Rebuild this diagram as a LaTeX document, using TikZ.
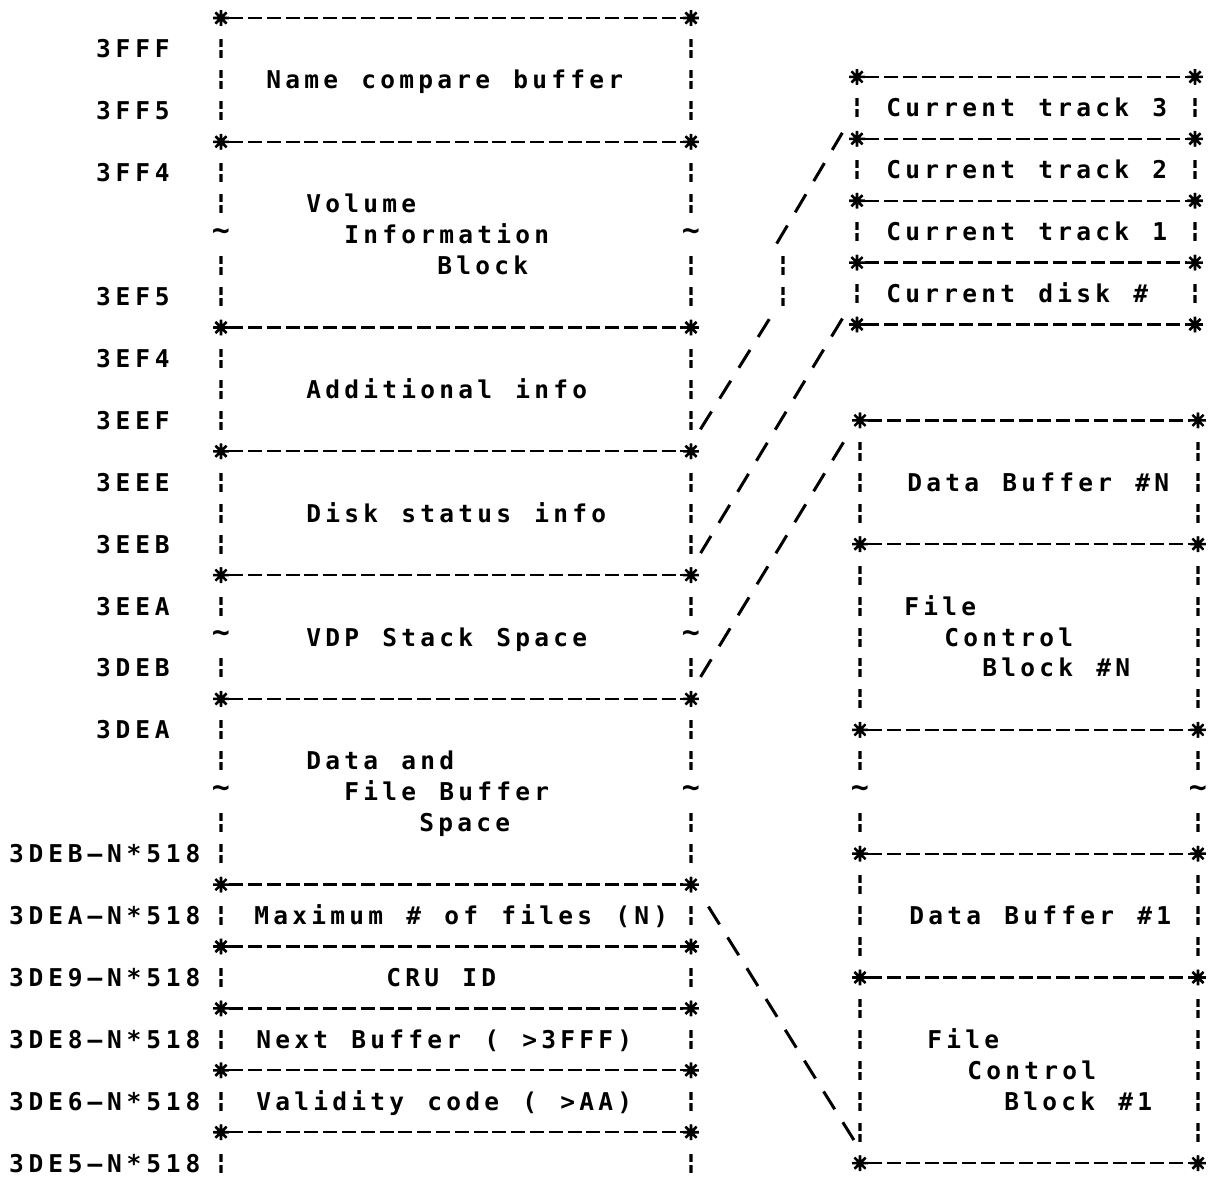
\documentclass[tikz,border=0pt]{standalone}
\usepackage{fontspec}
\usetikzlibrary{calc}
\newfontfamily\dotfont{DejaVu Sans Mono}
\ExplSyntaxOn
\dim_new:N \l_rsk_pitch_dim
\NewDocumentCommand \mono { O{19pt} m }
  {
    \dim_set:Nn \l_rsk_pitch_dim {#1}
    \exp_args:Ne \str_map_inline:nn {#2}
      {
        \makebox[\l_rsk_pitch_dim][c]
          { \str_if_eq:nnTF {##1} {@} { \# } {##1} }
      }
  }
\ExplSyntaxOff
\newcommand\RR[1]{18+30.95*#1}
\begin{document}
\begin{tikzpicture}[x=1pt,y=-1pt,
  txt/.style={anchor=base west, inner sep=0pt, font=\dotfont\bfseries\fontsize{24.5pt}{26pt}\selectfont},
  tld/.style={inner sep=0pt, font=\dotfont\bfseries\fontsize{30pt}{32pt}\selectfont},
  corner/.style={circle, minimum size=16pt, inner sep=0pt, path picture={
    \draw[line width=2.6pt] (path picture bounding box.north) -- (path picture bounding box.south)
      (path picture bounding box.west) -- (path picture bounding box.east)
      (path picture bounding box.north west) -- (path picture bounding box.south east)
      (path picture bounding box.north east) -- (path picture bounding box.south west);}},
  vbar/.style={rectangle, minimum width=3.4pt, minimum height=19pt, inner sep=0pt, path picture={
    \fill (path picture bounding box.north west) rectangle ([yshift=1.5pt]path picture bounding box.east);
    \fill ([yshift=-1.5pt]path picture bounding box.west) rectangle (path picture bounding box.south east);}},
  hline/.style={line width=2.3pt, dash pattern=on 14pt off 4.8pt},
  slash/.style={line width=3pt, dash pattern=on 21pt off 15.3pt}
]
\fill[white] (0,0) rectangle (1217,1179);
\useasboundingbox (0,0) rectangle (1217,1179);

% ---------- left memory map ----------
\foreach \r in {0,4,10,14,18,22,28,30,32,34,36}{
  \node[corner] (LB\r-w) at (221,{\RR{\r}}) {};
  \node[corner] (LB\r-e) at (691,{\RR{\r}}) {};
  \draw[hline] (LB\r-w) -- (LB\r-e);
}
\foreach \r in {1,2,3,5,6,8,9,11,12,13,15,16,17,19,21,23,24,26,27,29,31,33,35,37}{
  \node[vbar] (LV\r-w) at (221,{\RR{\r}}) {};
  \node[vbar] (LV\r-e) at (691,{\RR{\r}}) {};
}
\foreach \r in {7,20,25}{
  \node[tld] (LT\r-w) at (221,{\RR{\r}}) {\char"007E};
  \node[tld] (LT\r-e) at (691,{\RR{\r}}) {\char"007E};
}

% addresses
\foreach \r/\t in {1/3FFF,3/3FF5,5/3FF4,9/3EF5,11/3EF4,13/3EEF,15/3EEE,17/3EEB,19/3EEA,21/3DEB,23/3DEA}{
  \node[txt] (lab\r) at (93.5,{\RR{\r}+9}) {\mono[19.6pt]{\t}};
}
\foreach \r/\t in {27/3DEB–N*518,29/3DEA–N*518,31/3DE9–N*518,33/3DE8–N*518,35/3DE6–N*518,37/3DE5–N*518}{
  \node[txt] (lab\r) at (6.5,{\RR{\r}+9}) {\mono[19.6pt]{\t}};
}

% block texts
\node[txt] (t2)  at (264,{\RR{2}+9})  {\mono{Name compare buffer}};
\node[txt] (t6)  at (304,{\RR{6}+9})  {\mono{Volume}};
\node[txt] (t7)  at (342,{\RR{7}+9})  {\mono{Information}};
\node[txt] (t8)  at (435,{\RR{8}+9})  {\mono{Block}};
\node[txt] (t12) at (304,{\RR{12}+9}) {\mono{Additional info}};
\node[txt] (t16) at (304,{\RR{16}+9}) {\mono{Disk status info}};
\node[txt] (t20) at (304,{\RR{20}+9}) {\mono{VDP Stack Space}};
\node[txt] (t24) at (304,{\RR{24}+9}) {\mono{Data and}};
\node[txt] (t25) at (342,{\RR{25}+9}) {\mono{File Buffer}};
\node[txt] (t26) at (417,{\RR{26}+9}) {\mono{Space}};
\node[txt] (t29) at (252,{\RR{29}+9}) {\mono{Maximum @ of files (N)}};
\node[txt] (t31) at (384,{\RR{31}+9}) {\mono{CRU ID}};
\node[txt] (t33) at (254,{\RR{33}+9}) {\mono{Next Buffer ( >3FFF)}};
\node[txt] (t35) at (254,{\RR{35}+9}) {\mono{Validity code ( >AA)}};

% ---------- upper right box ----------
\foreach \r in {2,4,6,8,10}{
  \node[corner] (UB\r-w) at (857,{\RR{\r}-3}) {};
  \node[corner] (UB\r-e) at (1195,{\RR{\r}-3}) {};
  \draw[hline] (UB\r-w) -- (UB\r-e);
}
\foreach \r in {3,5,7,9}{
  \node[vbar] (UV\r-w) at (857,{\RR{\r}-3}) {};
  \node[vbar] (UV\r-e) at (1195,{\RR{\r}-3}) {};
}
\node[txt] (u3) at (884,{\RR{3}+6}) {\mono{Current track 3}};
\node[txt] (u5) at (884,{\RR{5}+6}) {\mono{Current track 2}};
\node[txt] (u7) at (884,{\RR{7}+6}) {\mono{Current track 1}};
\node[txt] (u9) at (884,{\RR{9}+6}) {\mono{Current disk @}};

% ---------- lower right box ----------
\foreach \r in {13,17,23,27,31,37}{
  \node[corner] (RB\r-w) at (860,{\RR{\r}}) {};
  \node[corner] (RB\r-e) at (1198,{\RR{\r}}) {};
  \draw[hline] (RB\r-w) -- (RB\r-e);
}
\foreach \r in {14,15,16,18,19,20,21,22,24,26,28,29,30,32,33,34,35,36}{
  \node[vbar] (RV\r-w) at (860,{\RR{\r}}) {};
  \node[vbar] (RV\r-e) at (1198,{\RR{\r}}) {};
}
\node[tld] (RT25-w) at (860,{\RR{25}}) {\char"007E};
\node[tld] (RT25-e) at (1198,{\RR{25}}) {\char"007E};
\node[txt] (r15) at (905,{\RR{15}+9})  {\mono{Data Buffer @N}};
\node[txt] (r19) at (902,{\RR{19}+9})  {\mono{File}};
\node[txt] (r20) at (942,{\RR{20}+9})  {\mono{Control}};
\node[txt] (r21) at (980,{\RR{21}+9})  {\mono{Block @N}};
\node[txt] (r29) at (907,{\RR{29}+9})  {\mono{Data Buffer @1}};
\node[txt] (r33) at (925,{\RR{33}+9})  {\mono{File}};
\node[txt] (r34) at (965,{\RR{34}+9})  {\mono{Control}};
\node[txt] (r35) at (1002,{\RR{35}+9}) {\mono{Block @1}};

% ---------- connectors ----------
\node[vbar] (c1v9) at (783,{\RR{9}}) {};
\node[vbar] (c1v8) at (783,{\RR{8}}) {};
\coordinate (c1a) at ($(LV13-e)+(15,0)$);
\coordinate (c1b) at ($(c1v9)+(-19,31)$);
\coordinate (c1c) at ($(c1v8)+(-1,-31)$);
\coordinate (c1d) at ($(UB4-w)+(-20,3)$);
\draw[slash] ($(c1a)!-0.0967!(c1b)$) -- ($(c1b)!-0.0967!(c1a)$);
\draw[slash] ($(c1c)!-0.0967!(c1d)$) -- ($(c1d)!-0.0967!(c1c)$);
\coordinate (c2a) at ($(UB10-w)+(-20,3)$);
\coordinate (c2b) at ($(LV17-e)+(15,0)$);
\draw[slash] ($(c2a)!-0.0414!(c2b)$) -- ($(c2b)!-0.0414!(c2a)$);
\coordinate (c3a) at ($(RV14-w)+(-22,0)$);
\coordinate (c3b) at ($(LV21-e)+(15,0)$);
\draw[slash] ($(c3a)!-0.0414!(c3b)$) -- ($(c3b)!-0.0414!(c3a)$);
\coordinate (c4a) at ($(LV29-e)+(23,0)$);
\coordinate (c4b) at ($(RV36-w)+(-11,0)$);
\draw[slash] ($(c4a)!-0.0414!(c4b)$) -- ($(c4b)!-0.0414!(c4a)$);
\end{tikzpicture}
\end{document}
